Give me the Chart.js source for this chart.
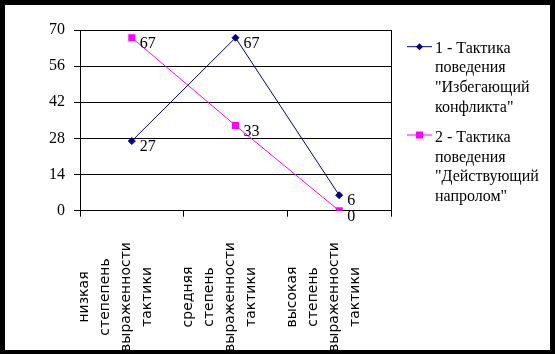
<!DOCTYPE html>
<html><head><meta charset="utf-8">
<script src="https://cdn.jsdelivr.net/npm/chart.js@4/dist/chart.umd.min.js"></script>
<style>
html,body{margin:0;padding:0;background:#000;width:555px;height:354px;overflow:hidden}
#wrap{position:absolute;left:5px;top:5px;width:545px;height:345px;background:#fff}
canvas{display:block}
</style></head><body>
<div id="wrap"><canvas id="c" width="545" height="345"></canvas></div>
<script>
const categories = [
  ["низкая","степепень","выраженности","тактики"],
  ["средняя","степень","выраженности","тактики"],
  ["высокая","степень","выраженности","тактики"]
];
const seriesNames = [
  ["1 - Тактика","поведения","\"Избегающий","конфликта\""],
  ["2 - Тактика","поведения","\"Действующий","напролом\""]
];
const series1 = [27, 67, 6];
const series2 = [67, 33, 0];
const yMin = 0, yMax = 70, yStep = 14;

const SERIF = '"Liberation Serif", "Times New Roman", serif';
const SANS = '"DejaVu Sans", sans-serif';

const dataLabels = {
  id: 'dataLabels',
  afterDatasetsDraw(chart) {
    const ctx = chart.ctx;
    ctx.save();
    ctx.font = '16px ' + SERIF;
    ctx.fillStyle = '#000';
    ctx.textAlign = 'left';
    ctx.textBaseline = 'middle';
    chart.data.datasets.forEach((ds, di) => {
      chart.getDatasetMeta(di).data.forEach((pt, i) => {
        ctx.fillText(String(ds.data[i]), pt.x + 8, pt.y + 6);
      });
    });
    ctx.restore();
  }
};

const xLabels = {
  id: 'xLabels',
  afterDraw(chart) {
    const ctx = chart.ctx;
    const xs = chart.scales.x;
    ctx.save();
    ctx.font = '14px ' + SANS;
    ctx.fillStyle = '#000';
    ctx.textAlign = 'center';
    ctx.textBaseline = 'middle';
    categories.forEach((lines, i) => {
      const px = xs.getPixelForValue(i);
      lines.forEach((t, j) => {
        ctx.save();
        ctx.translate(px - 47 + j * 21, 292);
        ctx.rotate(-Math.PI / 2);
        ctx.fillText(t, 0, 0);
        ctx.restore();
      });
    });
    ctx.restore();
  }
};

const legendPlugin = {
  id: 'customLegend',
  afterDraw(chart) {
    const ctx = chart.ctx;
    const blocks = [{y: 41.7, ty: 43.5}, {y: 130, ty: 133}];
    ctx.save();
    chart.data.datasets.forEach((ds, di) => {
      const b = blocks[di];
      ctx.strokeStyle = ds.borderColor;
      ctx.lineWidth = 1;
      ctx.beginPath();
      ctx.moveTo(402, b.y);
      ctx.lineTo(427, b.y);
      ctx.stroke();
      ctx.fillStyle = ds.borderColor;
      if (ds.pointStyle === 'rectRot') {
        ctx.beginPath();
        ctx.moveTo(414.5, b.y - 3.5);
        ctx.lineTo(418, b.y);
        ctx.lineTo(414.5, b.y + 3.5);
        ctx.lineTo(411, b.y);
        ctx.closePath();
        ctx.fill();
      } else {
        ctx.fillRect(411, b.y - 3.5, 7, 7);
      }
      ctx.fillStyle = '#000';
      ctx.font = '16px ' + SERIF;
      ctx.textAlign = 'left';
      ctx.textBaseline = 'middle';
      seriesNames[di].forEach((t, j) => ctx.fillText(t, 430, b.ty + j * 19.6));
    });
    ctx.restore();
  }
};

new Chart(document.getElementById('c'), {
  type: 'line',
  data: {
    labels: categories,
    datasets: [
      {label: seriesNames[0].join(' '), data: series1, borderColor: '#000080', backgroundColor: '#000080',
       borderWidth: 1, pointStyle: 'rectRot', pointRadius: 3.5, pointBorderWidth: 1, tension: 0},
      {label: seriesNames[1].join(' '), data: series2, borderColor: '#FF00FF', backgroundColor: '#FF00FF',
       borderWidth: 1, pointStyle: 'rect', pointRadius: 5, pointBorderWidth: 0, tension: 0}
    ]
  },
  options: {
    responsive: false,
    animation: false,
    events: [],
    layout: {padding: {left: 0, top: 25, right: 159, bottom: 0}},
    plugins: {legend: {display: false}, tooltip: {enabled: false}},
    scales: {
      x: {
        offset: true,
        ticks: {display: false},
        grid: {offset: true, drawOnChartArea: false, tickLength: 6, color: '#000', lineWidth: 1},
        border: {color: '#000', width: 1},
        afterFit(s) { s.height = 139.3; }
      },
      y: {
        min: yMin, max: yMax,
        ticks: {stepSize: yStep, color: '#000', padding: 9, font: {family: SERIF, size: 16}},
        grid: {color: '#000', tickLength: 6, lineWidth: 1},
        border: {color: '#000', width: 1},
        afterFit(s) { s.width = 75; }
      },
      y2: {
        position: 'right',
        min: yMin, max: yMax,
        ticks: {display: false},
        grid: {display: false},
        border: {color: '#000', width: 1},
        afterFit(s) { s.width = 0; }
      }
    }
  },
  plugins: [dataLabels, xLabels, legendPlugin]
});
</script>
</body></html>
